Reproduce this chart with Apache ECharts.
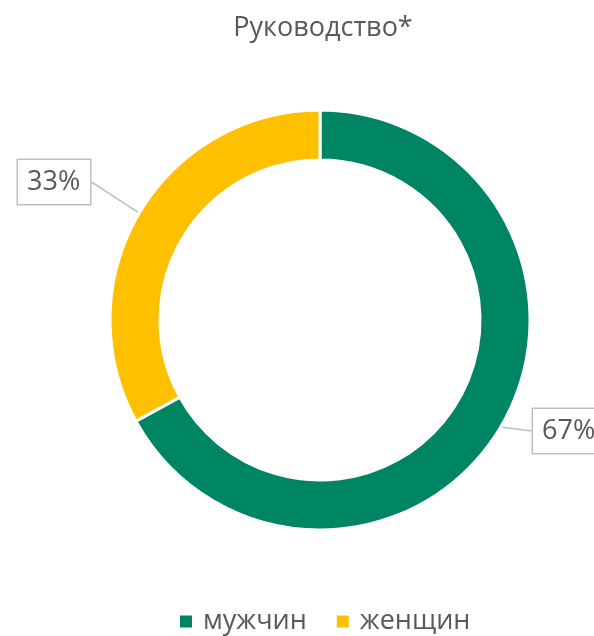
<!DOCTYPE html>
<html>
<head>
<meta charset="utf-8">
<script src="https://cdn.jsdelivr.net/npm/echarts@6/dist/echarts.min.js"></script>
<style>
  html, body { margin: 0; padding: 0; background: #fff; }
  #chart { width: 594px; height: 636px; }
</style>
</head>
<body>
<div id="chart"></div>
<script>
// данные диаграммы
const categories = ['мужчин', 'женщин'];
const values = [67, 33];
const colors = ['#008564', '#FFC000'];

const chart = echarts.init(document.getElementById('chart'));
const font = '"Open Sans", "Noto Sans", sans-serif';

const option = {
  animation: false,
  title: {
    text: 'Руководство*',
    left: 318,
    top: 10,
    textAlign: 'center',
    textStyle: { color: '#595959', fontSize: 27, fontWeight: 'normal', fontFamily: font }
  },
  color: colors,
  legend: {
    data: categories,
    left: 178,
    top: 608,
    padding: 0,
    icon: 'rect',
    itemWidth: 14,
    itemHeight: 14,
    itemGap: 28,
    textStyle: { color: '#595959', fontSize: 27, fontFamily: font, padding: [0, 0, 0, 5] }
  },
  series: [
    {
      type: 'pie',
      center: [320, 320],
      radius: [160, 210],
      startAngle: 90,
      clockwise: true,
      itemStyle: { borderColor: '#fff', borderWidth: 3 },
      label: {
        show: true,
        formatter: '{d}%',
        color: '#595959',
        fontSize: 27,
        fontFamily: font,
        width: 54,
        overflow: 'none',
        align: 'center',
        backgroundColor: '#fff',
        borderColor: '#bfbfbf',
        borderWidth: 1.5,
        padding: [9, 9, 8, 9]
      },
      labelLine: {
        show: true,
        smooth: false,
        length: 0,
        length2: 0,
        lineStyle: { color: '#bfbfbf', width: 1.5 }
      },
      // положение подписей-выносок
      labelLayout: function (params) {
        if (params.dataIndex === 0) {
          return { x: 533, y: 431, align: 'left', verticalAlign: 'middle' };
        }
        return { x: 18, y: 182, align: 'left', verticalAlign: 'middle' };
      },
      data: categories.map((c, i) => ({ name: c, value: values[i] }))
    }
  ]
};

chart.setOption(option);
</script>
</body>
</html>
